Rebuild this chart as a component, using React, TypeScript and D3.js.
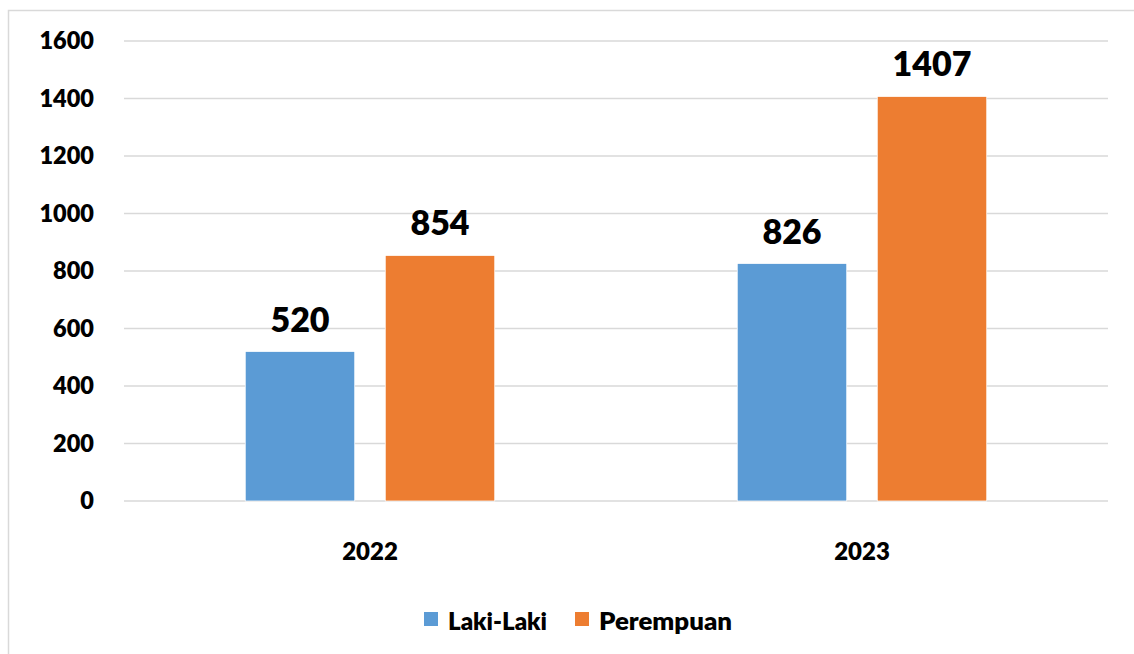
import React from "react";
import * as d3 from "d3";

const categories = ["2022", "2023"];
const seriesNames = ["Laki-Laki", "Perempuan"];
const lakiLaki = [520, 826];
const perempuan = [854, 1407];
const yTicks = [0, 200, 400, 600, 800, 1000, 1200, 1400, 1600];
const colors = ["#5B9BD5", "#ED7D31"];

const W = 1134;
const H = 654;
const FONT = "Lato, 'Open Sans', sans-serif";

export default function App() {
  const plotLeft = 124;
  const plotRight = 1108;
  const yBottom = 501;
  const yTop = 41;

  const x0 = d3.scaleBand<string>().domain(categories).range([plotLeft, plotRight]).padding(0);
  const groupW = 249.5;
  const x1 = d3.scaleBand<string>().domain(seriesNames).range([0, groupW]).paddingInner(0.218).paddingOuter(0);
  const y = d3.scaleLinear().domain([0, 1600]).range([yBottom, yTop]);

  const seriesValues = [lakiLaki, perempuan];

  return (
    <svg width={W} height={H} style={{ position: "absolute", left: 0, top: 0 }} fontFamily={FONT}>
      <rect x={0} y={0} width={W} height={H} fill="#fff" />
      <rect x={8.5} y={10.5} width={1200} height={700} fill="none" stroke="#d9d9d9" strokeWidth={1.5} />
      {yTicks.map((t) => (
        <g key={t}>
          <line x1={plotLeft} x2={plotRight} y1={y(t)} y2={y(t)} stroke="#d9d9d9" strokeWidth={1.5} />
          <text x={94} y={y(t)} dy="0.36em" textAnchor="end" fontSize={23.5} fontWeight={800} fill="#000">
            {t}
          </text>
        </g>
      ))}
      {categories.map((c, ci) => {
        const gx = (x0(c) as number) + (x0.bandwidth() - groupW) / 2;
        return (
          <g key={c}>
            {seriesNames.map((s, si) => {
              const v = seriesValues[si][ci];
              const bx = gx + (x1(s) as number);
              const bw = x1.bandwidth();
              return (
                <g key={s}>
                  <rect x={bx} y={y(v)} width={bw} height={y(0) - y(v)} fill={colors[si]} stroke="#fff" strokeWidth={0.75} />
                  <text x={bx + bw / 2} y={y(v) - 20} textAnchor="middle" fontSize={34} fontWeight={800} fill="#000">
                    {v}
                  </text>
                </g>
              );
            })}
            <text x={(x0(c) as number) + x0.bandwidth() / 2} y={560} textAnchor="middle" fontSize={24} fontWeight={800} fill="#000">
              {c}
            </text>
          </g>
        );
      })}
      <g>
        <rect x={424} y={612} width={14} height={14} fill={colors[0]} />
        <text x={448} y={630} fontSize={25} fontWeight={800} fill="#000" textLength={99} lengthAdjust="spacingAndGlyphs">{seriesNames[0]}</text>
        <rect x={575} y={612} width={14} height={14} fill={colors[1]} />
        <text x={599} y={630} fontSize={25} fontWeight={800} fill="#000" textLength={133} lengthAdjust="spacingAndGlyphs">{seriesNames[1]}</text>
      </g>
    </svg>
  );
}
